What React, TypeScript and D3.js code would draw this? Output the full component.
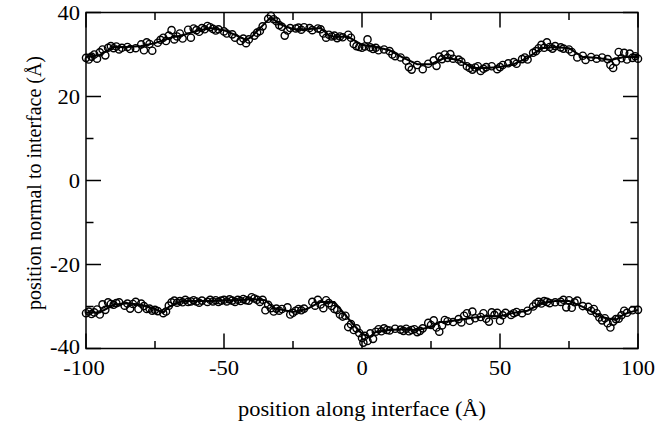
import React from "react";
import * as d3 from "d3";

const xTicksMajor = [-100, -50, 0, 50, 100];
const xTicksMinor = [-75, -25, 25, 75];
const yTicksMajor = [-40, -20, 0, 20, 40];
const yTicksMinor = [-30, -10, 10, 30];

const topLineX = [-100, -95, -90, -85, -80, -75, -70, -65, -60, -55, -50, -45, -42, -40, -33, -30, -25, -20, -15, -12, -10, -5, 0, 5, 10, 15, 20, 25, 30, 35, 40, 45, 50, 55, 60, 65, 70, 75, 80, 85, 90, 95, 100];
const topLineY = [29.4, 29.9, 31.8, 31.8, 32, 32.7, 33.9, 34.6, 35.6, 36.3, 35.8, 34.4, 33.5, 34.2, 38.9, 37.3, 36, 36, 36.3, 34.6, 34.2, 34.2, 32.3, 31.8, 31, 29.2, 27.7, 27.7, 29.2, 28.7, 26.8, 26.8, 27, 27.7, 29.2, 31.5, 31.8, 31.5, 29.4, 29.2, 28.7, 29.4, 29.4];

const botLineX = [-100, -95, -90, -85, -80, -75, -72, -70, -65, -60, -55, -50, -45, -40, -35, -32, -25, -20, -15, -10, -7, -3, 0, 3, 5, 10, 15, 20, 25, 28, 30, 35, 40, 45, 50, 55, 60, 65, 70, 75, 80, 85, 88, 92, 95, 100];
const botLineY = [-31.4, -31.4, -29.6, -29.2, -29.6, -30.6, -31.5, -30.1, -28.7, -28.7, -28.7, -28.5, -28.5, -28.2, -28.5, -30.4, -31.3, -30.6, -28.9, -28.9, -31.3, -34.4, -36.5, -37.2, -36, -35.6, -35.4, -35.6, -34.9, -33.7, -33.7, -33.2, -32.7, -32.3, -32.3, -31.5, -31, -29.2, -28.7, -28.7, -30.1, -31.8, -32.7, -33.2, -31.8, -30.8];

const topPtsX = [-100, -99, -98, -97, -96, -95, -94, -93, -92, -91, -90, -89, -88, -87, -85, -84, -82, -80, -79, -78, -77, -76, -74, -73, -72, -71, -70, -69, -68, -67, -66, -65, -63, -62, -61, -60, -59, -58, -57, -56, -55, -54, -53, -52, -50, -49, -47, -46, -44, -43, -42, -41, -39, -38, -37, -36, -34, -33, -32, -31, -30, -29, -28, -27, -26, -24, -23, -22, -21, -19, -18, -16, -15, -14, -13, -12, -11, -10, -9, -8, -7, -5, -4, -3, -2, -1, 0, 1, 2, 3, 4, 5, 6, 8, 10, 11, 12, 14, 16, 17, 18, 20, 22, 24, 26, 27, 28, 29, 30, 31, 32, 33, 35, 36, 38, 39, 40, 41, 42, 43, 44, 45, 47, 49, 50, 51, 53, 55, 56, 58, 59, 60, 62, 63, 64, 65, 66, 67, 68, 69, 70, 72, 73, 75, 76, 78, 80, 81, 83, 85, 87, 89, 90, 91, 92, 93, 94, 95, 96, 97, 98, 99, 100];
const topPtsY = [29.2, 28.8, 29.5, 30.0, 29.0, 30.5, 31.2, 29.8, 31.6, 32.0, 31.5, 31.9, 31.2, 31.6, 31.8, 31.3, 31.5, 32.4, 31.0, 32.9, 32.5, 30.9, 32.8, 33.5, 34.0, 33.2, 34.5, 35.8, 33.6, 34.3, 35.0, 33.8, 35.9, 34.0, 36.2, 35.8, 35.4, 36.3, 36.0, 36.8, 36.5, 36.1, 35.7, 36.0, 35.5, 35.0, 34.8, 34.0, 33.2, 33.8, 32.7, 33.6, 34.5, 35.2, 35.6, 36.7, 38.5, 39.2, 38.4, 37.9, 37.0, 36.6, 34.5, 35.7, 36.3, 36.2, 36.4, 35.9, 36.5, 36.3, 35.8, 36.2, 36.0, 35.0, 34.0, 34.7, 34.3, 34.5, 33.9, 34.3, 34.1, 34.7, 34.0, 32.5, 32.0, 31.8, 31.6, 31.9, 33.6, 31.7, 31.3, 31.6, 31.0, 31.2, 30.8, 30.0, 29.6, 29.3, 28.5, 27.0, 26.4, 27.5, 26.5, 27.8, 28.6, 27.3, 29.5, 28.9, 30.0, 29.2, 30.1, 29.0, 28.8, 28.3, 27.2, 26.8, 26.4, 26.9, 27.2, 26.1, 26.6, 27.0, 27.2, 26.5, 27.0, 27.5, 27.9, 28.2, 27.8, 28.9, 29.3, 28.8, 30.4, 30.8, 31.5, 32.3, 31.6, 32.9, 31.8, 31.4, 32.0, 31.7, 31.4, 31.2, 30.6, 29.3, 29.7, 28.7, 29.4, 29.0, 29.3, 28.9, 27.5, 26.8, 28.3, 30.6, 29.1, 30.4, 28.8, 30.2, 29.2, 29.6, 29.0];

const botPtsX = [-100, -99, -98, -97, -96, -95, -94, -93, -92, -91, -90, -89, -88, -86, -85, -84, -83, -82, -81, -80, -79, -78, -77, -76, -75, -74, -72, -71, -70, -69, -68, -67, -66, -65, -64, -63, -62, -61, -60, -59, -58, -56, -55, -54, -53, -52, -51, -50, -49, -48, -47, -46, -45, -44, -43, -42, -41, -40, -39, -38, -37, -36, -35, -34, -33, -32, -31, -30, -29, -27, -26, -25, -24, -23, -22, -21, -18, -17, -16, -15, -14, -13, -12, -11, -10, -9, -8, -7, -6, -5, -4, -3, -2, -1, 0, 0.5, 1, 2, 3, 4, 5, 6, 7, 8, 9, 10, 12, 14, 15, 16, 17, 18, 19, 20, 21, 22, 24, 25, 26, 27, 28, 29, 30, 31, 33, 35, 36, 37, 38, 39, 40, 41, 43, 44, 45, 46, 47, 48, 49, 50, 51, 52, 54, 55, 56, 58, 60, 62, 63, 64, 65, 66, 67, 68, 70, 72, 73, 74, 75, 76, 77, 78, 80, 82, 83, 84, 85, 86, 87, 88, 89, 90, 91, 92, 93, 94, 95, 96, 98, 100];
const botPtsY = [-31.6, -31.2, -31.8, -31.4, -30.7, -31.9, -29.5, -30.8, -29.0, -29.4, -29.6, -29.2, -29.0, -29.8, -29.3, -30.5, -29.4, -28.9, -30.6, -29.3, -29.9, -30.6, -30.5, -31.0, -30.8, -31.1, -31.6, -31.2, -29.8, -29.0, -28.6, -29.1, -28.7, -29.0, -28.4, -28.9, -28.8, -28.5, -28.8, -29.1, -28.6, -28.9, -28.4, -28.8, -28.5, -28.9, -28.6, -28.4, -28.8, -28.3, -28.6, -28.9, -28.4, -28.7, -28.2, -28.5, -28.6, -27.8, -28.1, -28.4, -28.9, -28.4, -30.9, -29.6, -30.4, -31.2, -30.5, -31.0, -30.6, -30.2, -31.9, -31.5, -31.0, -30.6, -30.9, -30.5, -28.9, -29.8, -28.4, -29.5, -30.4, -28.5, -29.2, -29.9, -30.6, -30.8, -31.9, -32.4, -32.2, -34.9, -34.2, -35.6, -35.2, -36.3, -37.5, -38.6, -37.0, -38.2, -36.4, -37.7, -36.0, -35.4, -35.9, -35.2, -35.6, -35.7, -35.3, -35.5, -35.8, -35.3, -35.9, -35.6, -35.4, -36.1, -35.8, -35.2, -33.9, -34.4, -33.3, -35.0, -36.0, -34.5, -33.2, -33.5, -33.7, -33.0, -33.8, -32.2, -31.6, -33.4, -31.2, -32.8, -32.5, -31.6, -32.9, -33.6, -31.4, -32.0, -31.5, -33.4, -32.1, -31.5, -32.0, -31.6, -31.3, -31.6, -31.0, -30.0, -29.3, -28.9, -29.3, -28.7, -28.9, -29.2, -29.0, -28.9, -28.4, -30.2, -28.5, -30.3, -29.0, -28.6, -29.9, -30.1, -31.0, -30.6, -31.6, -32.6, -33.3, -32.8, -34.0, -35.0, -33.6, -33.0, -32.9, -32.1, -31.0, -31.5, -30.9, -30.8];

const W = 671, H = 428;
const left = 86, right = 638, top = 12.5, bottom = 348.5;
const font = "'Liberation Serif', 'Times New Roman', serif";
const fs = 20.5;

export default function App() {
  const x = d3.scaleLinear().domain([-100, 100]).range([left, right]);
  const y = d3.scaleLinear().domain([-40, 40]).range([bottom, top]);
  const topPath = d3.line<[number, number]>().x((d) => x(d[0])).y((d) => y(d[1]))(topLineX.map((v, i) => [v, topLineY[i]]));
  const botPath = d3.line<[number, number]>().x((d) => x(d[0])).y((d) => y(d[1]))(botLineX.map((v, i) => [v, botLineY[i]]));
  const major = 15, minor = 7.5;
  const tickStyle = { stroke: "#000", strokeWidth: 1.5 };
  return (
    <svg width={W} height={H} style={{ position: "absolute", left: 0, top: 0, background: "#fff" }} xmlns="http://www.w3.org/2000/svg">
      <rect x={0} y={0} width={W} height={H} fill="#fff" />
      {xTicksMajor.map((t) => (
        <g key={"xm" + t}>
          <line x1={x(t)} x2={x(t)} y1={bottom} y2={bottom - major} {...tickStyle} />
          <line x1={x(t)} x2={x(t)} y1={top} y2={top + major} {...tickStyle} />
          <text transform={`translate(${x(t) - (t === -100 ? 2 : 0)},375) scale(1.1,1)`} textAnchor="middle" fontFamily={font} fontSize={fs}>{t}</text>
        </g>
      ))}
      {xTicksMinor.map((t) => (
        <g key={"xn" + t}>
          <line x1={x(t)} x2={x(t)} y1={bottom} y2={bottom - minor} {...tickStyle} />
          <line x1={x(t)} x2={x(t)} y1={top} y2={top + minor} {...tickStyle} />
        </g>
      ))}
      {yTicksMajor.map((t) => (
        <g key={"ym" + t}>
          <line x1={left} x2={left + major} y1={y(t)} y2={y(t)} {...tickStyle} />
          <line x1={right} x2={right - major} y1={y(t)} y2={y(t)} {...tickStyle} />
          <text transform={`translate(80,${y(t) + (t === -40 ? 5 : 7.5)}) scale(1.1,1)`} textAnchor="end" fontFamily={font} fontSize={fs}>{t}</text>
        </g>
      ))}
      {yTicksMinor.map((t) => (
        <g key={"yn" + t}>
          <line x1={left} x2={left + minor} y1={y(t)} y2={y(t)} {...tickStyle} />
          <line x1={right} x2={right - minor} y1={y(t)} y2={y(t)} {...tickStyle} />
        </g>
      ))}
      <rect x={left} y={top} width={right - left} height={bottom - top} fill="none" stroke="#000" strokeWidth={1.5} />
      <path d={topPath || ""} fill="none" stroke="#000" strokeWidth={2} />
      <path d={botPath || ""} fill="none" stroke="#000" strokeWidth={2} />
      {topPtsX.map((v, i) => (
        <circle key={"t" + i} cx={x(v)} cy={y(topPtsY[i])} r={3.6} fill="none" stroke="#000" strokeWidth={1.4} />
      ))}
      {botPtsX.map((v, i) => (
        <circle key={"b" + i} cx={x(v)} cy={y(botPtsY[i])} r={3.6} fill="none" stroke="#000" strokeWidth={1.4} />
      ))}
      <text x={362} y={416} textAnchor="middle" fontFamily={font} fontSize={fs} textLength={248} lengthAdjust="spacingAndGlyphs">position along interface (Å)</text>
      <text transform={`translate(41,183) rotate(-90)`} textAnchor="middle" fontFamily={font} fontSize={fs} textLength={254} lengthAdjust="spacingAndGlyphs">position normal to interface (Å)</text>
    </svg>
  );
}
